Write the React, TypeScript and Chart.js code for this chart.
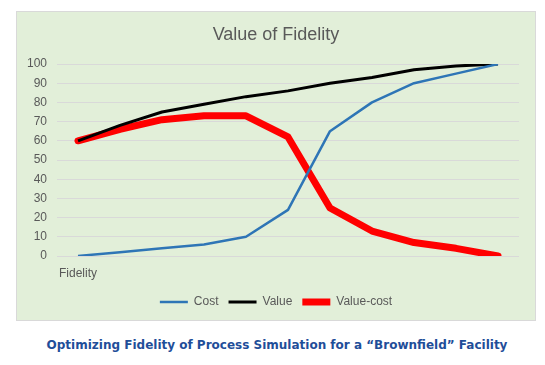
import React, { useEffect, useRef } from "react";
import { Chart, registerables } from "chart.js";

Chart.register(...registerables);

const categories = ["Fidelity", "", "", "", "", "", "", "", "", "", ""];
const costValues = [0, 2, 4, 6, 10, 24, 65, 80, 90, 95, 100];
const valueValues = [60, 68, 75, 79, 83, 86, 90, 93, 97, 99, 100];
const valueCostValues = [60, 66, 71, 73, 73, 62, 25, 13, 7, 4, 0];
const titleText = "Value of Fidelity";
const captionText = "Optimizing Fidelity of Process Simulation for a \u201CBrownfield\u201D Facility";

const FONT = "'Liberation Sans', Arial, sans-serif";

export default function App() {
  const ref = useRef<HTMLCanvasElement | null>(null);

  useEffect(() => {
    if (!ref.current) return;
    const chart = new Chart(ref.current, {
      type: "line",
      data: {
        labels: categories,
        datasets: [
          {
            label: "Cost",
            data: costValues,
            borderColor: "#2E75B6",
            backgroundColor: "#2E75B6",
            borderWidth: 2.5,
            pointRadius: 0,
            tension: 0,
            borderJoinStyle: "round",
          },
          {
            label: "Value",
            data: valueValues,
            borderColor: "#000000",
            backgroundColor: "#000000",
            borderWidth: 3,
            pointRadius: 0,
            tension: 0,
            borderJoinStyle: "round",
          },
          {
            label: "Value-cost",
            data: valueCostValues,
            borderColor: "#FF0000",
            backgroundColor: "#FF0000",
            borderWidth: 7,
            pointRadius: 0,
            tension: 0,
            borderCapStyle: "round",
            borderJoinStyle: "round",
          },
        ],
      },
      options: {
        animation: false,
        responsive: false,
        maintainAspectRatio: false,
        layout: { padding: { left: 0, right: 0, top: 0, bottom: 2 } },
        plugins: {
          title: {
            display: true,
            text: titleText,
            color: "#595959",
            font: { family: FONT, size: 18, weight: "normal" },
            padding: { top: 12, bottom: 18.4 },
          },
          legend: {
            position: "bottom",
            labels: {
              usePointStyle: true,
              pointStyle: "line",
              pointStyleWidth: 28,
              boxHeight: 12,
              padding: 10,
              color: "#595959",
              font: { family: FONT, size: 12 },
            },
          },
          tooltip: { enabled: false },
        },
        scales: {
          x: {
            offset: true,
            grid: { display: false, drawTicks: false, offset: true },
            border: { display: false },
            ticks: {
              color: "#595959",
              font: { family: FONT, size: 12 },
              padding: 10,
              autoSkip: false,
              maxRotation: 0,
            },
            afterFit: (s: any) => {
              s.height = 30;
            },
          },
          y: {
            position: "left",
            min: 0,
            max: 100,
            ticks: {
              stepSize: 10,
              color: "#595959",
              font: { family: FONT, size: 12 },
              padding: 10,
            },
            grid: { color: "#D9D9D9", lineWidth: 1, drawTicks: false },
            border: { display: false },
            afterFit: (s: any) => {
              s.width = 40;
            },
          },
          yRight: {
            position: "right",
            display: true,
            min: 0,
            max: 100,
            grid: { display: false, drawTicks: false },
            border: { display: false },
            ticks: { display: false },
            afterFit: (s: any) => {
              s.width = 16;
            },
          },
        },
      },
    });
    return () => chart.destroy();
  }, []);

  return (
    <div
      style={{
        position: "absolute",
        left: 0,
        top: 0,
        width: 545,
        height: 365,
        background: "#FFFFFF",
      }}
    >
      <div
        style={{
          position: "absolute",
          left: 16,
          top: 11,
          width: 518,
          height: 308,
          background: "#E2EFD9",
          border: "1px solid #D9D9D9",
        }}
      >
        <canvas ref={ref} width={518} height={308} style={{ display: "block" }} />
      </div>
      <div
        style={{
          position: "absolute",
          left: 0,
          width: 554,
          top: 336,
          textAlign: "center",
          fontFamily: "'DejaVu Sans', Verdana, sans-serif",
          fontWeight: "bold",
          fontSize: 12,
          lineHeight: "18px",
          color: "#1F4E99",
          whiteSpace: "nowrap",
        }}
      >
        {captionText}
      </div>
    </div>
  );
}
